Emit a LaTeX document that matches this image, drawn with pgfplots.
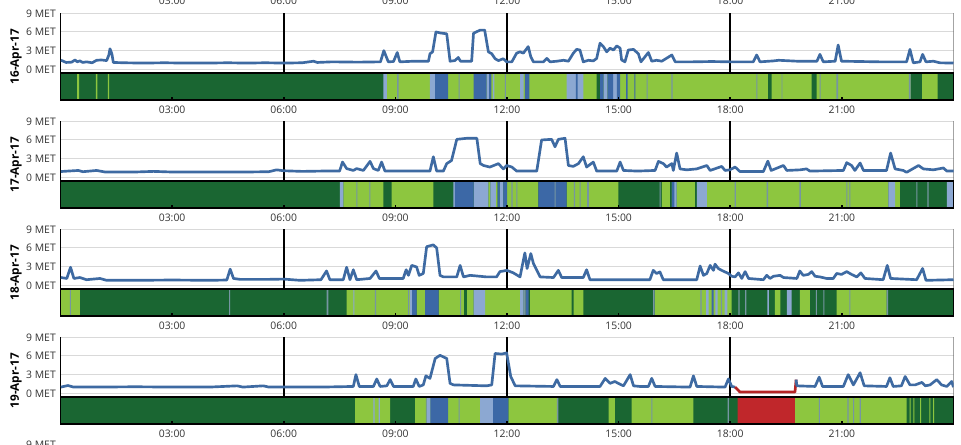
\documentclass[border=0pt]{standalone}
\usepackage{fontspec}
\setmainfont{Open Sans}
\usepackage{pgfplots}
\pgfplotsset{compat=1.18}
\definecolor{metline}{RGB}{62,106,162}
\definecolor{redline}{RGB}{180,36,36}
\definecolor{dkg}{RGB}{26,102,50}
\definecolor{lgr}{RGB}{141,198,63}
\definecolor{blu}{RGB}{60,104,166}
\definecolor{lbl}{RGB}{140,168,210}
\definecolor{gst}{RGB}{118,150,162}
\definecolor{redb}{RGB}{192,39,43}
\pgfplotsset{
 metaxis/.style={scale only axis, width=669.75pt, height=45pt, xmin=0, xmax=24, ymin=-0.64, ymax=9,
   axis lines=left, axis line style={-, black, line width=1.4pt},
   ytick={0,3,6,9}, yticklabels={0 MET,3 MET,6 MET,9 MET},
   ymajorgrids, major grid style={gray!30, line width=0.7pt},
   xtick={6,12,18}, xticklabels={}, xmajorgrids,
   extra x ticks={24}, extra x tick labels={},
   extra x tick style={major grid style={black!55, line width=0.8pt}},
   major tick length=0pt,
   tick label style={font=\fontsize{7.8}{9}\selectfont, text=black!80},
   anchor=north west},
 bandaxis/.style={scale only axis, width=669.75pt, height=20pt, xmin=0, xmax=24, ymin=0, ymax=1, ytick=\empty,
   axis background/.style={fill=dkg}, axis on top, axis line style={black, line width=1.4pt},
   xtick={3,6,...,21}, xticklabels={03:00,06:00,09:00,12:00,15:00,18:00,21:00},
   xtick pos=left, xtick align=inside, major tick length=2.5pt, tick style={black, line width=1.2pt},
   xticklabel style={anchor=center, yshift=-7.5pt, font=\fontsize{7.8}{9}\selectfont, text=black!80},
   anchor=north west},
 band/.style={const plot, draw=none, fill=#1},
 vgrid/.style={major x grid style={black, line width=1.4pt}},
}
\begin{document}
\begin{tikzpicture}
\useasboundingbox (0,0) rectangle (720.75pt,333.75pt);

% ================= Panel 1 : 16-Apr-17 =================
\begin{axis}[metaxis, at={(45.375pt,323.775pt)}, xmajorgrids=false]
\addplot[black!55, line width=0.8pt, forget plot] coordinates {(24,-0.64)(24,9)};
\addplot[black, line width=1.4pt, forget plot] coordinates {(6,-0.64)(6,9)};
\addplot[black, line width=1.4pt, forget plot] coordinates {(12,-0.64)(12,9)};
\addplot[black, line width=1.4pt, forget plot] coordinates {(18,-0.64)(18,9)};
\addplot[metline, line width=2pt, line join=round] coordinates {
(0.01,1.47)(0.15,1.1)(0.30,1.15)(0.39,1.5)(0.45,1.2)(0.52,1.35)(0.60,1.1)(0.70,1.2)(0.85,1.05)
(0.97,1.45)(1.10,1.5)(1.24,1.4)(1.30,2.3)(1.33,3.3)(1.38,2.5)(1.42,1.1)(1.7,1.05)(2.2,1.0)
(2.8,1.05)(3.3,1.0)(3.9,1.0)(4.5,1.05)(5.0,1.0)(5.5,1.05)(6.0,1.0)(6.5,1.05)(6.8,1.3)(6.9,1.1)
(7.3,1.2)(8.0,1.15)(8.6,1.2)(8.69,3.0)(8.81,1.2)(8.95,1.25)(9.05,2.7)(9.12,1.2)(9.5,1.3)(9.89,1.3)
(9.93,2.5)(10.0,2.8)(10.09,6.0)(10.2,5.85)(10.38,5.7)(10.47,1.3)(10.6,1.4)(10.69,1.9)(10.75,1.3)
(11.05,1.3)(11.10,5.8)(11.28,6.3)(11.40,6.3)(11.50,2.8)(11.59,2.5)(11.68,1.7)(11.77,1.4)(11.90,1.7)
(11.99,1.2)(12.13,1.2)(12.26,2.6)(12.35,2.8)(12.44,2.6)(12.57,3.65)(12.64,2.0)(12.71,1.2)(12.98,1.2)
(13.07,1.75)(13.16,1.2)(13.34,1.3)(13.52,1.45)(13.65,1.3)(13.78,2.56)(13.87,3.2)(13.96,3.1)(14.05,1.2)
(14.19,1.45)(14.32,1.35)(14.41,1.75)(14.50,4.2)(14.59,3.65)(14.68,2.8)(14.77,3.4)(14.86,3.1)(14.95,3.76)
(15.04,3.4)(15.08,1.5)(15.17,1.2)(15.26,3.1)(15.40,3.2)(15.53,2.5)(15.6,1.2)(15.80,2.7)(15.89,1.3)
(16.02,1.45)(16.16,1.3)(16.43,2.3)(16.52,1.2)(17.0,1.2)(17.5,1.25)(18.0,1.2)(18.62,1.2)(18.71,2.3)
(18.80,1.2)(19.16,1.35)(19.30,1.45)(19.8,1.3)(20.05,1.3)(20.33,1.3)(20.41,2.4)(20.50,1.2)(20.82,1.3)
(20.90,3.9)(20.99,1.3)(21.5,1.25)(22.0,1.2)(22.74,1.2)(22.83,3.2)(22.92,1.04)(23.1,1.2)(23.17,2.4)
(23.26,1.2)(23.46,1.3)(23.64,1.04)(24.0,1.0)};
\end{axis}
\begin{axis}[bandaxis, at={(45.375pt,278.775pt)}]
\addplot[band=lgr] coordinates {(0.45,1)(0.50,0)(0.95,1)(0.99,0)(1.27,1)(1.31,0)(8.74,1)(24,0)} \closedcycle;
\addplot[band=dkg] coordinates {(14.41,1)(14.50,0)(19.02,1)(19.11,0)(20.19,1)(20.32,0)(22.85,1)(23.15,0)(23.57,1)(24,0)} \closedcycle;
\addplot[band=lbl] coordinates {(8.68,1)(8.77,0)(9.93,1)(10.07,0)(11.45,1)(11.55,0)(11.62,1)(11.66,0)(12.35,1)(12.45,0)(13.6,1)(14.05,0)(14.6,1)(14.7,0)(14.85,1)(14.95,0)} \closedcycle;
\addplot[band=blu] coordinates {(10.07,1)(10.42,0)(11.1,1)(11.45,0)(11.52,1)(11.58,0)(12.48,1)(12.6,0)(13.85,1)(13.9,0)(14.5,1)(14.6,0)(14.7,1)(14.85,0)(14.95,1)(15.04,0)(15.2,1)(15.24,0)(15.42,1)(15.45,0)} \closedcycle;
\addplot[band=gst] coordinates {(9.05,1)(9.09,0)(10.7,1)(10.73,0)(11.94,1)(11.97,0)(15.75,1)(15.78,0)(16.42,1)(16.45,0)(18.7,1)(18.73,0)(19.38,1)(19.4,0)(20.4,1)(20.43,0)(20.85,1)(20.9,0)(22.8,1)(22.85,0)} \closedcycle;
\end{axis}

% ================= Panel 2 : 17-Apr-17 =================
\begin{axis}[metaxis, at={(45.375pt,242.775pt)}, xmajorgrids=false]
\addplot[black!55, line width=0.8pt, forget plot] coordinates {(24,-0.64)(24,9)};
\addplot[black, line width=1.4pt, forget plot] coordinates {(6,-0.64)(6,9)};
\addplot[black, line width=1.4pt, forget plot] coordinates {(12,-0.64)(12,9)};
\addplot[black, line width=1.4pt, forget plot] coordinates {(18,-0.64)(18,9)};
\addplot[metline, line width=2pt, line join=round] coordinates {
(0.01,0.93)(0.48,1.1)(0.6,0.9)(0.97,1.1)(1.2,0.85)(2.0,0.85)(2.5,0.95)(3.0,0.85)(4.0,0.85)(5.0,0.85)
(5.6,0.9)(5.81,1.2)(6.0,1.05)(6.5,0.95)(7.0,1.0)(7.5,1.0)(7.58,2.45)(7.69,1.4)(7.87,1.1)(7.96,1.4)
(8.14,1.1)(8.32,2.56)(8.41,1.4)(8.54,1.1)(8.63,2.45)(8.72,1.0)(9.5,1.0)(9.93,1.0)(10.02,3.3)(10.11,1.0)
(10.29,1.0)(10.38,2.2)(10.51,2.7)(10.65,6.1)(10.92,6.27)(11.19,6.27)(11.28,2.2)(11.37,1.9)(11.54,1.65)
(11.77,2.2)(11.90,1.35)(11.99,1.9)(12.13,1.65)(12.26,1.0)(12.80,1.0)(12.93,6.0)(13.20,6.1)(13.29,4.9)
(13.38,6.1)(13.56,6.27)(13.65,1.9)(13.78,1.75)(13.92,2.2)(14.05,3.3)(14.14,1.65)(14.32,2.45)(14.41,1.0)
(14.95,1.0)(15.04,2.45)(15.13,1.1)(15.5,1.0)(15.98,1.1)(16.07,2.56)(16.20,2.2)(16.29,1.65)(16.43,2.2)
(16.47,1.1)(16.56,3.9)(16.65,1.35)(16.83,1.2)(17.1,1.35)(17.37,1.9)(17.46,1.1)(17.77,1.75)(17.86,1.1)
(17.99,1.2)(18.13,1.65)(18.26,0.93)(18.89,0.93)(19.01,2.6)(19.10,1.1)(19.43,1.9)(19.52,1.1)(19.88,1.2)
(20.05,1.35)(20.14,1.0)(21.04,1.1)(21.13,2.35)(21.26,1.9)(21.35,1.1)(21.49,2.3)(21.58,1.1)(22.2,1.1)
(22.31,3.9)(22.43,1.35)(22.65,1.1)(22.74,0.8)(23.06,1.9)(23.19,1.35)(23.46,1.2)(23.73,1.5)(23.82,1.0)(24.0,1.0)};
\end{axis}
\begin{axis}[bandaxis, at={(45.375pt,197.775pt)}]
\addplot[band=lgr] coordinates {(7.6,1)(8.68,0)(8.9,1)(10.02,0)(11.5,1)(11.55,0)(11.7,1)(11.75,0)(12.0,1)(12.84,0)(13.6,1)(14.99,0)(16.16,1)(16.38,0)(16.56,1)(17.05,0)(17.37,1)(22.25,0)(22.43,1)(22.56,0)} \closedcycle;
\addplot[band=lbl] coordinates {(7.51,1)(7.6,0)(10.56,1)(10.6,0)(11.1,1)(11.5,0)(11.55,1)(11.7,0)(11.8,1)(11.9,0)(16.43,1)(16.56,0)(17.1,1)(17.37,0)(22.25,1)(22.43,0)(23.82,1)(24,0)} \closedcycle;
\addplot[band=blu] coordinates {(10.6,1)(11.1,0)(11.75,1)(11.8,0)(11.9,1)(12.0,0)(12.84,1)(13.6,0)(16.43,1)(16.5,0)} \closedcycle;
\addplot[band=gst] coordinates {(7.95,1)(7.98,0)(8.3,1)(8.33,0)(12.12,1)(12.15,0)(12.25,1)(12.28,0)(13.28,1)(13.31,0)(13.8,1)(13.83,0)(13.95,1)(13.98,0)(14.15,1)(14.2,0)(16.1,1)(16.13,0)(18.12,1)(18.15,0)(18.98,1)(19.02,0)(19.86,1)(19.9,0)(21.12,1)(21.15,0)(21.2,1)(21.23,0)(23.0,1)(23.03,0)(23.3,1)(23.33,0)} \closedcycle;
\end{axis}

% ================= Panel 3 : 18-Apr-17 =================
\begin{axis}[metaxis, at={(45.375pt,161.775pt)}, xmajorgrids=false]
\addplot[black!55, line width=0.8pt, forget plot] coordinates {(24,-0.64)(24,9)};
\addplot[black, line width=1.4pt, forget plot] coordinates {(6,-0.64)(6,9)};
\addplot[black, line width=1.4pt, forget plot] coordinates {(12,-0.64)(12,9)};
\addplot[black, line width=1.4pt, forget plot] coordinates {(18,-0.64)(18,9)};
\addplot[metline, line width=2pt, line join=round] coordinates {
(0.01,1.25)(0.17,1.1)(0.27,2.9)(0.36,1.1)(0.52,1.25)(0.70,0.9)(1.06,1.1)(1.24,0.8)(2.0,0.8)(3.0,0.85)
(4.0,0.8)(4.47,0.85)(4.56,2.6)(4.65,1.1)(4.83,0.95)(5.54,0.95)(6.0,1.0)(6.44,0.8)(7.0,0.9)(7.15,2.3)
(7.24,0.9)(7.6,0.9)(7.69,2.9)(7.78,0.9)(7.87,2.5)(7.96,0.9)(8.32,1.1)(8.48,2.3)(8.57,1.1)(9.21,1.1)
(9.29,2.5)(9.35,1.6)(9.44,3.2)(9.57,2.95)(9.64,1.6)(9.75,1.9)(9.84,6.2)(10.02,6.5)(10.11,6.0)(10.20,1.6)
(10.29,1.35)(10.65,1.35)(10.74,3.2)(10.83,1.35)(11.01,1.6)(11.45,1.35)(11.72,1.35)(11.81,2.2)(12.0,2.4)
(12.17,2.0)(12.35,1.35)(12.48,5.2)(12.54,2.7)(12.64,5.1)(12.71,3.5)(12.89,1.35)(13.25,1.25)(13.38,2.4)
(13.47,1.25)(14.05,1.25)(14.14,2.5)(14.23,0.9)(15.0,0.9)(15.84,0.9)(15.93,2.4)(16.02,1.9)(16.11,2.15)
(16.2,0.9)(17.1,0.9)(17.19,3.1)(17.28,1.6)(17.37,1.9)(17.46,3.2)(17.55,2.4)(17.59,3.4)(17.68,2.7)
(17.77,2.4)(17.86,2.15)(17.95,1.9)(18.04,1.45)(18.13,1.35)(18.22,2.0)(18.31,1.1)(18.40,2.2)(18.49,1.1)
(18.89,0.9)(18.98,1.6)(19.07,1.1)(19.16,1.45)(19.34,1.6)(19.43,1.25)(19.79,1.1)(19.87,2.3)(19.96,1.6)
(20.1,1.75)(20.19,2.2)(20.28,1.45)(20.41,1.35)(20.59,1.1)(20.77,1.1)(20.86,1.9)(20.99,1.75)(21.13,2.2)
(21.26,1.75)(21.40,1.35)(21.51,2.0)(21.62,1.1)(22.11,0.9)(22.22,3.2)(22.31,1.1)(23.01,0.9)(23.17,2.7)
(23.26,0.8)(24.0,0.9)};
\end{axis}
\begin{axis}[bandaxis, at={(45.375pt,116.775pt)}]
\addplot[band=lgr] coordinates {(0,1)(0.52,0)(7.69,1)(9.39,0)(9.57,1)(9.8,0)(10.16,1)(11.1,0)(11.41,1)(12.35,0)(12.62,1)(14.05,0)(15.98,1)(18.04,0)(19.2,1)(19.35,0)(19.87,1)(20.14,0)(20.86,1)(22.2,0)} \closedcycle;
\addplot[band=dkg] coordinates {(10.85,1)(10.92,0)(13.74,1)(13.79,0)} \closedcycle;
\addplot[band=lbl] coordinates {(7.87,1)(7.9,0)(9.39,1)(9.45,0)(11.1,1)(11.41,0)(12.35,1)(12.45,0)(17.35,1)(17.42,0)(17.6,1)(17.66,0)(17.85,1)(17.92,0)(19.0,1)(19.04,0)(19.52,1)(19.65,0)} \closedcycle;
\addplot[band=blu] coordinates {(9.45,1)(9.57,0)(9.8,1)(10.16,0)(12.5,1)(12.58,0)(17.5,1)(17.55,0)} \closedcycle;
\addplot[band=gst] coordinates {(0.25,1)(0.28,0)(4.53,1)(4.56,0)(7.15,1)(7.2,0)(8.45,1)(8.48,0)(9.34,1)(9.37,0)(10.74,1)(10.77,0)(12.45,1)(12.5,0)(15.93,1)(15.97,0)(17.2,1)(17.23,0)(17.75,1)(17.78,0)(18.22,1)(18.25,0)(18.4,1)(18.43,0)(20.3,1)(20.33,0)(20.5,1)(20.53,0)(21.2,1)(21.23,0)(22.2,1)(22.24,0)} \closedcycle;
\end{axis}

% ================= Panel 4 : 19-Apr-17 =================
\begin{axis}[metaxis, at={(45.375pt,80.775pt)}, xmajorgrids=false]
\addplot[black!55, line width=0.8pt, forget plot] coordinates {(24,-0.64)(24,9)};
\addplot[black, line width=1.4pt, forget plot] coordinates {(6,-0.64)(6,9)};
\addplot[black, line width=1.4pt, forget plot] coordinates {(12,-0.64)(12,9)};
\addplot[black, line width=1.4pt, forget plot] coordinates {(18,-0.64)(18,9)};
\addplot[metline, line width=2pt, line join=round] coordinates {
(0.01,1.0)(0.2,1.25)(0.35,1.0)(1.0,1.0)(2.0,1.05)(3.0,1.0)(4.0,1.0)(4.75,1.2)(4.9,1.0)(5.45,1.2)
(5.6,1.0)(6.5,1.0)(7.0,1.0)(7.87,1.1)(7.94,3.0)(8.03,1.1)(8.41,1.1)(8.5,2.3)(8.59,1.1)(8.77,1.2)
(8.86,2.2)(8.95,1.1)(9.48,1.1)(9.55,2.3)(9.64,1.1)(9.75,1.35)(9.82,2.8)(9.93,2.4)(10.07,5.6)(10.2,6.1)
(10.38,5.6)(10.47,1.6)(10.56,1.35)(11.45,1.2)(11.59,1.35)(11.68,6.4)(11.86,6.3)(11.99,6.5)(12.1,2.7)
(12.22,1.2)(13.25,1.1)(13.34,2.2)(13.43,1.1)(14.5,1.1)(14.64,2.4)(14.77,1.6)(14.9,1.9)(14.99,1.6)
(15.13,1.2)(15.31,3.0)(15.40,1.2)(15.57,1.1)(15.80,1.1)(15.89,2.4)(15.98,1.1)(16.92,1.0)(17.01,2.8)
(17.1,1.1)(17.86,1.0)(17.95,2.3)(18.04,1.1)(18.13,1.0)};
\addplot[redline, line width=2pt, line join=round] coordinates {(18.13,1.0)(18.26,0.2)(19.74,0.2)(19.77,2.2)};
\addplot[metline, line width=2pt, line join=round] coordinates {
(19.77,2.2)(19.79,1.2)(20.28,1.1)(20.39,2.6)(20.48,1.1)(21.04,1.1)(21.17,3.0)(21.31,1.35)(21.49,3.3)
(21.60,1.2)(22.2,1.1)(22.29,2.5)(22.38,1.1)(22.6,1.2)(22.7,2.7)(22.83,1.35)(22.97,1.35)(23.15,1.75)
(23.24,1.2)(23.37,1.35)(23.55,2.2)(23.68,1.35)(23.82,1.1)(23.95,1.9)(24.0,1.0)};
\end{axis}
\begin{axis}[bandaxis, at={(45.375pt,35.775pt)}]
\addplot[band=lgr] coordinates {(7.92,1)(8.86,0)(9.53,1)(9.84,0)(10.42,1)(11.28,0)(12.04,1)(13.34,0)(14.73,1)(14.9,0)(15.35,1)(17.01,0)(19.74,1)(22.74,0)(22.82,1)(22.85,0)(22.92,1)(22.95,0)(23.1,1)(23.13,0)(23.35,1)(23.38,0)(23.45,1)(23.48,0)} \closedcycle;
\addplot[band=lbl] coordinates {(8.41,1)(8.44,0)(8.55,1)(8.58,0)(9.84,1)(9.95,0)(11.28,1)(11.63,0)} \closedcycle;
\addplot[band=blu] coordinates {(9.95,1)(10.42,0)(11.63,1)(12.04,0)} \closedcycle;
\addplot[band=gst] coordinates {(9.82,1)(9.84,0)(10.7,1)(10.73,0)(13.34,1)(13.38,0)(15.88,1)(15.91,0)(17.93,1)(17.96,0)(20.38,1)(20.41,0)(21.15,1)(21.18,0)(21.3,1)(21.33,0)(21.48,1)(21.51,0)} \closedcycle;
\addplot[band=redb] coordinates {(18.2,1)(19.74,0)} \closedcycle;
\end{axis}

% date labels
\node[rotate=90, font=\bfseries\fontsize{8.8}{10}\selectfont] at (12pt,291.2pt) {16-Apr-17};
\node[rotate=90, font=\bfseries\fontsize{8.8}{10}\selectfont] at (12pt,210.2pt) {17-Apr-17};
\node[rotate=90, font=\bfseries\fontsize{8.8}{10}\selectfont] at (12pt,129.2pt) {18-Apr-17};
\node[rotate=90, font=\bfseries\fontsize{8.8}{10}\selectfont] at (12pt,48.2pt) {19-Apr-17};
% cut-off labels of neighbouring panels
\foreach \xx/\lab in {129.1/03:00,212.8/06:00,296.5/09:00,380.25/12:00,463.9/15:00,547.6/18:00,631.4/21:00}
  \node[font=\fontsize{7.8}{9}\selectfont, text=black!80] at (\xx pt,333.4pt) {\lab};
\node[anchor=east, font=\fontsize{7.8}{9}\selectfont, text=black!80] at (45.375pt,-0.2pt) {9 MET};
\end{tikzpicture}
\end{document}
